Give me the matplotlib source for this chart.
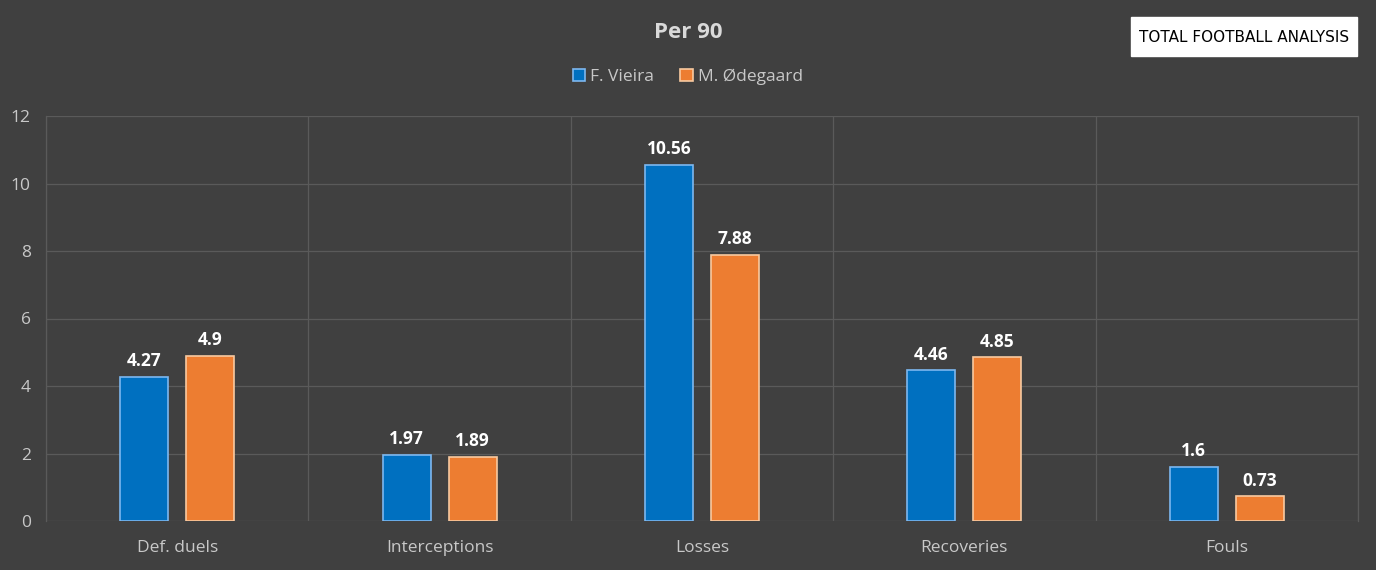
import matplotlib.pyplot as plt
from matplotlib.patches import Rectangle
import numpy as np

categories = ["Def. duels", "Interceptions", "Losses", "Recoveries", "Fouls"]
vieira = [4.27, 1.97, 10.56, 4.46, 1.6]
odegaard = [4.9, 1.89, 7.88, 4.85, 0.73]
labels_v = ["4.27", "1.97", "10.56", "4.46", "1.6"]
labels_o = ["4.9", "1.89", "7.88", "4.85", "0.73"]
series_names = ["F. Vieira", "M. Ødegaard"]
yticks = [0, 2, 4, 6, 8, 10, 12]

bg = "#404040"
grid = "#5a5a5a"
blue = "#0070C0"
blue_edge = "#7DB8F0"
orange = "#ED7D31"
orange_edge = "#F8C9A0"
txt = "#c8c8c8"

fig = plt.figure(figsize=(13.76, 5.7), dpi=100, facecolor=bg)
ax = fig.add_axes([46/1376, 1-521/570, (1358-46)/1376, (521-116)/570])
ax.set_facecolor(bg)

x = np.arange(len(categories))
w = 0.183
off = 0.126
b1 = ax.bar(x - off, vieira, w, color=blue, edgecolor=blue_edge, linewidth=1.2, zorder=3)
b2 = ax.bar(x + off, odegaard, w, color=orange, edgecolor=orange_edge, linewidth=1.2, zorder=3)

for xi, v, l in zip(x - off, vieira, labels_v):
    ax.text(xi, v + 0.2, l, ha="center", va="bottom", color="white", fontsize=12.5, fontweight="bold",
            fontfamily="Open Sans")
for xi, v, l in zip(x + off, odegaard, labels_o):
    ax.text(xi, v + 0.2, l, ha="center", va="bottom", color="white", fontsize=12.5, fontweight="bold",
            fontfamily="Open Sans")

ax.set_xlim(-0.5, len(categories) - 0.5)
ax.set_ylim(0, 12)
ax.set_yticks(yticks)
ax.set_yticklabels([str(t) for t in yticks], color=txt, fontsize=12.5, fontfamily="Open Sans")
ax.set_xticks(x)
ax.set_xticklabels(categories, color=txt, fontsize=12.5, fontfamily="Open Sans")
ax.set_xticks(np.arange(-0.5, len(categories) + 0.5, 1), minor=True)
ax.tick_params(axis="both", which="both", length=0)
ax.tick_params(axis="y", pad=11)
ax.tick_params(axis="x", pad=14)
ax.grid(axis="y", which="major", color=grid, linewidth=0.9, zorder=0)
ax.grid(axis="x", which="minor", color=grid, linewidth=0.9, zorder=0)
for s in ["top", "bottom"]:
    ax.spines[s].set_visible(False)
for s in ["left", "right"]:
    ax.spines[s].set_color(grid)
    ax.spines[s].set_linewidth(0.9)

fig.text(0.5, 1 - 32/570, "Per 90", ha="center", va="center", color="#d9d9d9", fontsize=16, fontweight="bold",
         fontfamily="Open Sans")

leg = fig.legend([b1, b2], series_names, loc="center", bbox_to_anchor=(0.5, 1 - 77/570), ncol=2, frameon=False,
                 handlelength=0.7, handleheight=0.7, handletextpad=0.3, columnspacing=1.5,
                 prop={"family": "Open Sans", "size": 12.5})
for t in leg.get_texts():
    t.set_color(txt)

fig.patches.append(Rectangle((1131/1376, 1 - 56/570), (1357-1131)/1376, 39/570, transform=fig.transFigure,
                             facecolor="white", edgecolor="white", zorder=5))
fig.text((1131 + 1357) / 2 / 1376, 1 - 37/570, "TOTAL FOOTBALL ANALYSIS", ha="center", va="center",
         color="black", fontsize=11, fontfamily="DejaVu Sans", zorder=6)

fig.savefig("out.png", dpi=100, facecolor=bg)
